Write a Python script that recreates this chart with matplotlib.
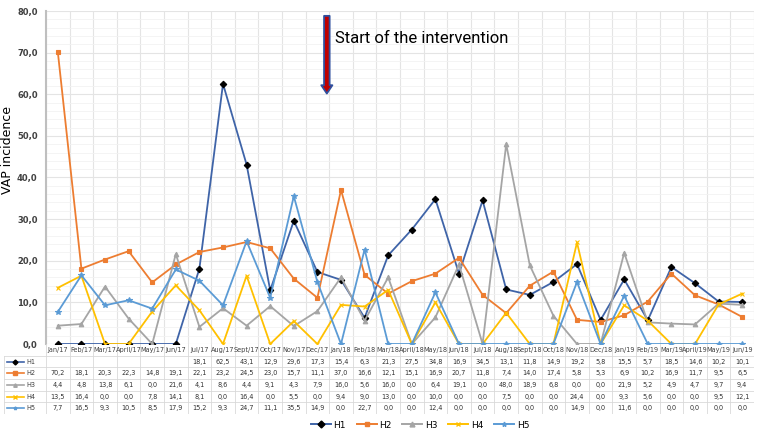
import numpy as np
import matplotlib
matplotlib.use("Agg")
import matplotlib.pyplot as plt
from matplotlib.lines import Line2D

# dados
meses = ['Jan/17', 'Feb/17', 'Mar/17', 'April/17', 'May/17', 'Jun/17', 'Jul/17', 'Aug/17', 'Sept/17',
         'Oct/17', 'Nov/17', 'Dec/17', 'Jan/18', 'Feb/18', 'Mar/18', 'April/18', 'May/18', 'Jun/18',
         'Jul/18', 'Aug/18', 'Sept/18', 'Oct/18', 'Nov/18', 'Dec/18', 'Jan/19', 'Feb/19', 'Mar/19',
         'April/19', 'May/19', 'Jun/19']
h1 = [None, None, None, None, None, None, 18.1, 62.5, 43.1, 12.9, 29.6, 17.3, 15.4, 6.3, 21.3, 27.5,
      34.8, 16.9, 34.5, 13.1, 11.8, 14.9, 19.2, 5.8, 15.5, 5.7, 18.5, 14.6, 10.2, 10.1]
h2 = [70.2, 18.1, 20.3, 22.3, 14.8, 19.1, 22.1, 23.2, 24.5, 23.0, 15.7, 11.1, 37.0, 16.6, 12.1, 15.1,
      16.9, 20.7, 11.8, 7.4, 14.0, 17.4, 5.8, 5.3, 6.9, 10.2, 16.9, 11.7, 9.5, 6.5]
h3 = [4.4, 4.8, 13.8, 6.1, 0.0, 21.6, 4.1, 8.6, 4.4, 9.1, 4.3, 7.9, 16.0, 5.6, 16.0, 0.0, 6.4, 19.1,
      0.0, 48.0, 18.9, 6.8, 0.0, 0.0, 21.9, 5.2, 4.9, 4.7, 9.7, 9.4]
h4 = [13.5, 16.4, 0.0, 0.0, 7.8, 14.1, 8.1, 0.0, 16.4, 0.0, 5.5, 0.0, 9.4, 9.0, 13.0, 0.0, 10.0, 0.0,
      0.0, 7.5, 0.0, 0.0, 24.4, 0.0, 9.3, 5.6, 0.0, 0.0, 9.5, 12.1]
h5 = [7.7, 16.5, 9.3, 10.5, 8.5, 17.9, 15.2, 9.3, 24.7, 11.1, 35.5, 14.9, 0.0, 22.7, 0.0, 0.0, 12.4,
      0.0, 0.0, 0.0, 0.0, 0.0, 14.9, 0.0, 11.6, 0.0, 0.0, 0.0, 0.0, 0.0]
nomes = ['H1', 'H2', 'H3', 'H4', 'H5']

series = [h1, h2, h3, h4, h5]
cores = ['#3f64a8', '#ed7d31', '#a5a5a5', '#ffc000', '#5b9bd5']
marc = ['D', 's', '^', 'x', '*']
mcor = ['black', '#ed7d31', '#a5a5a5', '#ffc000', '#5b9bd5']

W, H = 758, 440
fig = plt.figure(figsize=(W / 100, H / 100), dpi=100)
n = len(meses)
x = np.arange(n)
left, right = 46, 754
colw = (right - left) / n

ax = fig.add_axes([left / W, (H - 344) / H, (right - left) / W, (344 - 11) / H])
ax.set_xlim(-0.5, n - 0.5)
ax.set_ylim(0, 80)
for i, s in enumerate(series):
    y = [v if v is not None else 0 for v in s]
    ax.plot(x, y, color=cores[i], lw=1.3, marker=marc[i], ms=3.3 if i != 4 else 4,
            mfc=mcor[i], mec=mcor[i], mew=0.8, zorder=3 + i)

ax.set_yticks(np.arange(0, 81, 10))
ax.set_yticklabels([f'{v:.1f}'.replace('.', ',') for v in np.arange(0, 81, 10)],
                   fontsize=6, fontweight='bold', color='#404040')
ax.set_yticks(np.arange(0, 81, 2), minor=True)
ax.tick_params(axis='y', which='both', length=0, pad=6)
ax.set_xticks(np.arange(-0.5, n, 1))
ax.set_xticklabels([])
ax.tick_params(axis='x', length=0)
ax.grid(axis='x', color='#e4e4e4', lw=0.8)
ax.grid(axis='y', which='major', color='#e4e4e4', lw=0.8)
ax.grid(axis='y', which='minor', color='#f2f2f2', lw=0.6)
ax.set_axisbelow(True)
for sp in ['top', 'right', 'bottom']:
    ax.spines[sp].set_visible(False)
ax.spines['left'].set_color('#bfbfbf')
ax.spines['left'].set_linewidth(1.5)
fig.text(8 / W, 1 - 150 / H, 'VAP incidence', rotation=90, va='center', ha='center', fontsize=9)

# seta do inicio da intervencao
ax.annotate('', xy=(11.4, 59.5), xytext=(11.4, 79.5),
            arrowprops=dict(arrowstyle='simple,head_width=0.8,head_length=0.6,tail_width=0.4',
                            fc='#c00000', ec='#2f4f9f', lw=1.3), zorder=10)
ax.text(11.75, 73.5, 'Start of the intervention', fontsize=12,
        family=['Liberation Sans Narrow', 'Roboto', 'DejaVu Sans'], va='center', ha='left')

# tabela de dados
tb = fig.add_axes([0, 26 / H, right / W, 70 / H])
x0 = -0.5 - left / colw
tb.set_xlim(x0, n - 0.5)
tb.set_ylim(6, 0)
tb.axis('off')
for r in range(1, 7):
    tb.plot([x0 + 0.15, n - 0.5], [r, r], color='#d9d9d9', lw=0.6)
for c in range(n + 1):
    tb.plot([c - 0.5, c - 0.5], [0, 6], color='#d9d9d9', lw=0.6)
tb.plot([x0 + 0.15, x0 + 0.15], [1, 6], color='#d9d9d9', lw=0.6)
for j, m in enumerate(meses):
    tb.text(j, 0.55, m, ha='center', va='center', fontsize=4.7, color='#404040')
for i, s in enumerate(series):
    yy = i + 1.5
    tb.plot([x0 + 0.3, x0 + 1.0], [yy, yy], color=cores[i], lw=1.2)
    tb.plot([x0 + 0.65], [yy], marker=marc[i], ms=2.5, color=mcor[i])
    tb.text(x0 + 1.1, yy, nomes[i], fontsize=4.7, va='center', color='#404040')
    for j, v in enumerate(s):
        if v is None:
            continue
        tb.text(j, yy, f'{v:.1f}'.replace('.', ','), ha='center', va='center',
                fontsize=4.7, color='#303030')

# legenda
hand = [Line2D([0], [0], color=cores[i], lw=1.4, marker=marc[i], ms=3.5,
               mfc=mcor[i], mec=mcor[i]) for i in range(5)]
fig.legend(hand, nomes, loc='center', bbox_to_anchor=(420 / W, 1 - 425 / H), ncol=5,
           frameon=False, fontsize=6.5, handlelength=2.2, columnspacing=1.2, handletextpad=0.3)

fig.savefig('out.png', dpi=100, facecolor='white')
